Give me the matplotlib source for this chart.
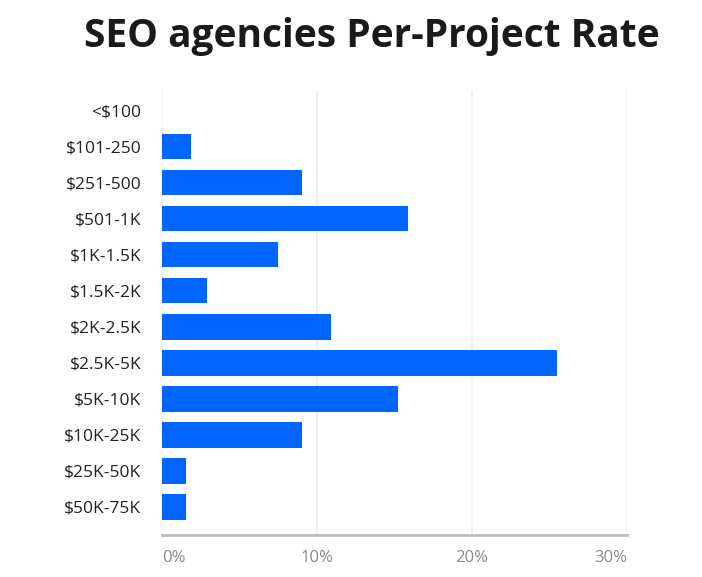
"""
SEO agencies per-project rate — horizontal bar chart
"""

import matplotlib
matplotlib.use("Agg")
import matplotlib.pyplot as plt
from matplotlib.ticker import FuncFormatter

# ── Data ──────────────────────────────────────────────────────────────────────
categories = ["<$100", "$101-250", "$251-500", "$501-1K", "$1K-1.5K",
              "$1.5K-2K", "$2K-2.5K", "$2.5K-5K", "$5K-10K", "$10K-25K",
              "$25K-50K", "$50K-75K"]
shares     = [0.0, 1.9, 9.0, 15.9, 7.5, 2.9, 10.9, 25.5, 15.2, 9.0, 1.55, 1.55]
x_ticks    = [0, 10, 20, 30]

TITLE     = "SEO agencies Per-Project Rate"
BAR_COLOR = "#0066FF"
FONT      = "Open Sans"

# ── Plot ──────────────────────────────────────────────────────────────────────
fig = plt.figure(figsize=(7.02, 5.77), dpi=100)
ax = fig.add_axes([162 / 702, 1 - 535 / 577, (627 - 162) / 702, (535 - 90) / 577])

y = list(range(len(categories)))
ax.barh(y, shares, height=0.7, color=BAR_COLOR, zorder=3)

ax.set_xlim(0, 30)
ax.set_ylim(len(categories) - 1 + 0.78, -0.58)

ax.set_yticks(y)
ax.set_yticklabels(categories, fontsize=12.5, color="#222222", family=FONT)
ax.set_xticks(x_ticks)
ax.xaxis.set_major_formatter(FuncFormatter(lambda v, _: f"{v:.0f}%"))
xlabels = ax.get_xticklabels()
for i, lbl in enumerate(xlabels):
    lbl.set_fontsize(12)
    lbl.set_color("#8a8a8a")
    lbl.set_family(FONT)
# first label hugs the left edge, last one the right edge
xlabels[0].set_horizontalalignment("left")
xlabels[-1].set_horizontalalignment("right")

ax.tick_params(axis="both", length=0)
ax.tick_params(axis="y", pad=15)
ax.tick_params(axis="x", pad=11)

ax.grid(True, axis="x", color="#ececec", linewidth=1.2, zorder=0)
for side in ["top", "right", "left"]:
    ax.spines[side].set_visible(False)
ax.spines["bottom"].set_color("#bdbdbd")
ax.spines["bottom"].set_linewidth(2)

fig.text(372 / 702, 1 - 37 / 577, TITLE, ha="center", va="center",
         fontsize=28, fontweight="bold", color="#1a1a1a", family=FONT)

fig.savefig("out.png", dpi=100)
plt.close(fig)
